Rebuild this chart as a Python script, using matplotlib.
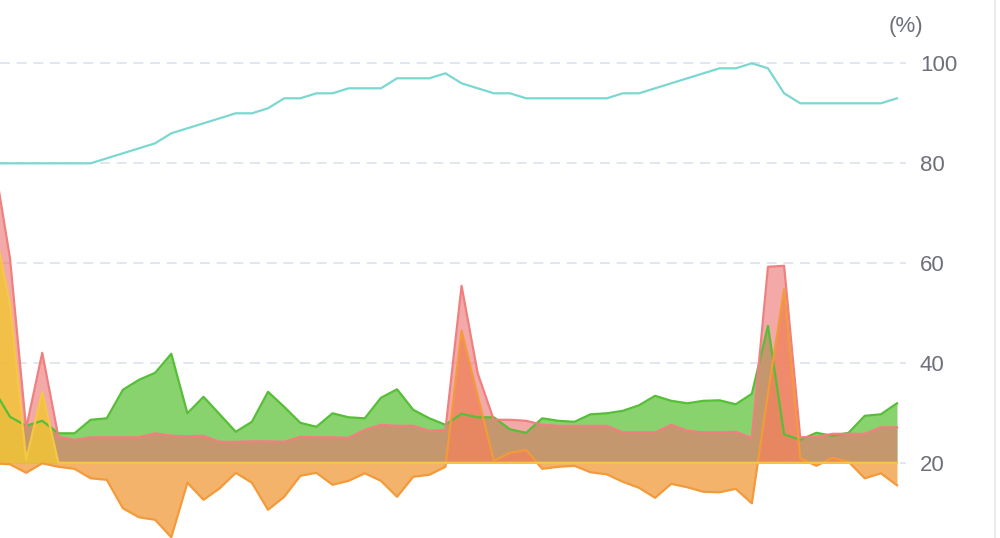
import numpy as np
import matplotlib
matplotlib.use('Agg')
import matplotlib.pyplot as plt
from matplotlib.lines import Line2D

# values (index 0 is just outside the left edge)
availability = [80, 80, 80, 80, 80, 80, 80, 81, 82, 83, 84, 86, 87, 88, 89, 90, 90, 91, 93, 93,
                94, 94, 95, 95, 95, 97, 97, 97, 98, 96, 95, 94, 94, 93, 93, 93, 93, 93, 93, 94,
                94, 95, 96, 97, 98, 99, 99, 100, 99, 94, 92, 92, 92, 92, 92, 92, 93]
green = [34.7, 29.3, 27.5, 28.5, 26.0, 26.0, 28.7, 29.0, 34.7, 36.7, 38.1, 41.9, 30.0, 33.3, 29.8,
         26.3, 28.3, 34.3, 31.3, 28.1, 27.3, 30.0, 29.2, 29.0, 33.1, 34.8, 30.7, 29.0, 27.7, 29.9,
         29.2, 29.2, 26.8, 26.1, 29.0, 28.5, 28.3, 29.8, 30.0, 30.5, 31.6, 33.5, 32.5, 32.0, 32.5,
         32.6, 31.8, 33.9, 47.5, 25.8, 24.7, 26.1, 25.5, 26.1, 29.5, 29.8, 32.0]
red = [80.7, 61.0, 27.0, 42.1, 25.3, 24.7, 25.2, 25.2, 25.2, 25.2, 26.0, 25.5, 25.4, 25.5, 24.3,
       24.3, 24.4, 24.4, 24.3, 25.3, 25.2, 25.2, 25.1, 26.7, 27.7, 27.5, 27.5, 26.5, 26.7, 55.5,
       38.0, 28.7, 28.7, 28.5, 27.7, 27.5, 27.5, 27.5, 27.5, 26.2, 26.2, 26.2, 27.7, 26.5, 26.2,
       26.2, 26.3, 25.1, 59.3, 59.5, 25.2, 25.3, 25.9, 25.9, 25.9, 27.2, 27.2]
orange = [20.0, 19.8, 18.1, 20.0, 19.3, 18.9, 17.0, 16.7, 11.0, 9.2, 8.7, 5.2, 16.1, 12.7, 15.0,
          18.1, 16.1, 10.7, 13.3, 17.5, 18.1, 15.7, 16.5, 18.0, 16.5, 13.3, 17.3, 17.7, 19.3, 46.5,
          33.5, 20.5, 22.1, 22.7, 18.9, 19.3, 19.5, 18.2, 17.8, 16.3, 15.1, 13.1, 15.9, 15.2, 14.3,
          14.2, 14.9, 12.0, 34.0, 54.8, 21.0, 19.5, 21.1, 20.3, 17.0, 18.0, 15.6]
yellow = [67.7, 51.7, 20.7, 34.2] + [20.1] * 53
yticks = [20, 40, 60, 80, 100]

x = np.arange(len(green))
base = 20

fig = plt.figure(figsize=(10, 5.38), dpi=100)
ax = fig.add_axes([0, 0, 0.906, 1])

for v in yticks:
    ax.axhline(v, color='#dde2ef', lw=1.2, dashes=(6, 4), zorder=0)

ax.fill_between(x, base, green, color='#6cc84a', alpha=0.8, lw=0, zorder=1)
ax.fill_between(x, base, orange, color='#f1a046', alpha=0.8, lw=0, zorder=2)
ax.fill_between(x, base, red, color='#ee7070', alpha=0.6, lw=0, zorder=3)
ax.fill_between(x, base, yellow, color='#f2c437', alpha=0.85, lw=0, zorder=4)

ax.plot(x, green, color='#56be37', lw=1.6, zorder=5)
ax.plot(x, red, color='#f08080', lw=1.6, zorder=5)
ax.plot(x, orange, color='#f39a3a', lw=1.6, zorder=5)
ax.plot(x, yellow, color='#f5c842', lw=1.6, zorder=6)
ax.plot(x, availability, color='#7bd8d0', lw=1.6, zorder=6)

ax.set_xlim(1 - 10 / 16.127, 56 + 9 / 16.127)
ax.set_ylim(5.06, 112.66)

ax.set_xticks([])
ax.yaxis.tick_right()
ax.set_yticks(yticks)
ax.set_yticklabels([str(v) for v in yticks], fontsize=16, family='Liberation Sans', color='#6e7079')
ax.tick_params(axis='y', length=0, pad=10)
for s in ax.spines.values():
    s.set_visible(False)
ax.patch.set_alpha(0)

ax.text(1.0, 1 - 26.5 / 538, '(%)', transform=ax.transAxes, ha='center', va='center',
        fontsize=16, family='Liberation Sans', color='#6e7079')

fig.add_artist(Line2D([0.9945, 0.9945], [0, 1], color='#ececec', lw=1.5))

fig.savefig('out.png', dpi=100)
